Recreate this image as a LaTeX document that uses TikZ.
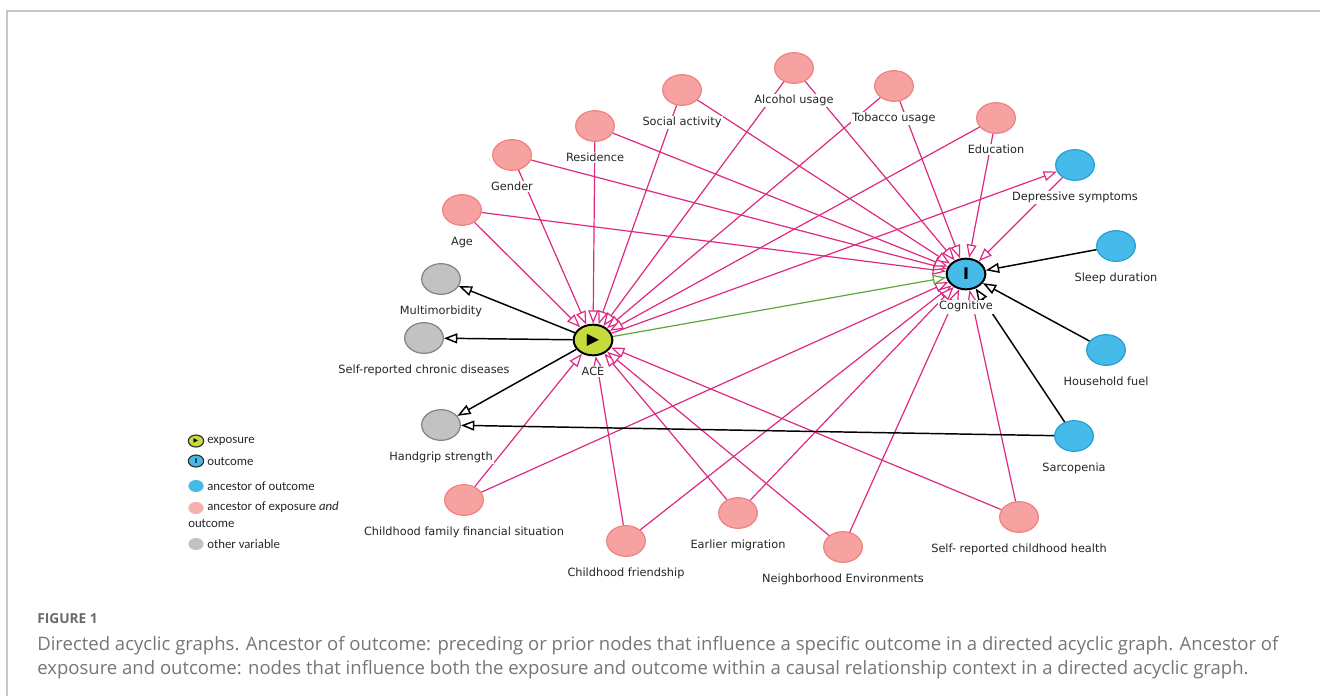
\documentclass[tikz,border=0pt]{standalone}
\usepackage{fontspec}
\setmainfont{DejaVu Sans}
\newfontfamily\legfont{Carlito}
\newfontfamily\capfont{Open Sans}
\usetikzlibrary{positioning,arrows.meta,shapes.geometric}
\definecolor{pinkfill}{RGB}{246,162,160}
\definecolor{pinkline}{RGB}{240,130,128}
\definecolor{bluefill}{RGB}{70,186,232}
\definecolor{blueline}{RGB}{38,160,216}
\definecolor{grayfill}{RGB}{194,194,194}
\definecolor{grayline}{RGB}{130,130,130}
\definecolor{expofill}{RGB}{198,218,62}
\definecolor{edgepink}{RGB}{222,40,130}
\definecolor{edgegreen}{RGB}{92,166,60}
\definecolor{captext}{RGB}{118,118,118}

\begin{document}
\begin{tikzpicture}[x=0.75pt, y=-0.75pt, font=\fontsize{8.5}{10}\selectfont,
                    v/.style={ellipse, minimum width=29pt, minimum height=23pt, inner sep=0pt, line width=0.9pt},
                    anc/.style={v, fill=pinkfill, draw=pinkline},
                    anco/.style={v, fill=bluefill, draw=blueline},
                    oth/.style={v, fill=grayfill, draw=grayline},
                    expo/.style={v, fill=expofill, draw=black, line width=1.5pt},
                    outc/.style={v, fill=bluefill, draw=black, line width=1.5pt},
                    lab/.style={fill=white, inner sep=1pt, text=black!85},
                    e/.style={line width=0.9pt, -{Triangle[length=10pt, width=7.5pt, fill=white]}},
                    bias/.style={e, edgepink},
                    caus/.style={e, edgegreen},
                    blk/.style={e, black, line width=1.1pt},
                    key/.style={ellipse, minimum width=11.5pt, minimum height=9pt, inner sep=0pt},
                    legt/.style={anchor=west, inner sep=0pt, font=\legfont\fontsize{9.6}{11}\selectfont, text=black!85},
                    captxt/.style={anchor=base west, inner sep=0pt, text=captext}]
  \useasboundingbox (0,0) rectangle (1320,696);
  \draw[black!22, line width=0.8pt] (7,696) -- (7,11) -- (1320,11);
  % variables
  \node[expo] (ace) at (593,340) {\fontsize{12}{12}\selectfont ▶};
  \node[outc] (cog) at (966,274) {\fontsize{12}{12}\selectfont\bfseries I};
  \node[anc] (age) at (462,210) {};
  \node[anc] (gen) at (512,155) {};
  \node[anc] (res) at (595,126) {};
  \node[anc] (soc) at (682,90) {};
  \node[anc] (alc) at (794,68) {};
  \node[anc] (tob) at (894,86) {};
  \node[anc] (edu) at (996,118) {};
  \node[anc] (fin) at (464,500) {};
  \node[anc] (fri) at (626,541) {};
  \node[anc] (mig) at (738,513) {};
  \node[anc] (nei) at (843,547) {};
  \node[anc] (hea) at (1019,517) {};
  \node[anco] (dep) at (1075,165) {};
  \node[anco] (sle) at (1116,246) {};
  \node[anco] (fue) at (1106,350) {};
  \node[anco] (sar) at (1074,436) {};
  \node[oth] (mult) at (441,279) {};
  \node[oth] (chro) at (424,338) {};
  \node[oth] (hand) at (441,425) {};
  % edges
  \foreach \a in {age,gen,res,soc,alc,tob,edu,fin,fri,mig,nei,hea} {
    \draw[bias] (\a) -- (ace);
    \draw[bias] (\a) -- (cog);
  }
  \draw[bias] (ace) -- (dep);
  \draw[bias] (dep) -- (cog);
  \draw[caus] (ace) -- (cog);
  \foreach \a in {sle,fue,sar} \draw[blk] (\a) -- (cog);
  \foreach \b in {mult,chro,hand} \draw[blk] (ace) -- (\b);
  \draw[blk] (sar) -- (hand);
  % labels
  \node[lab, below=7pt of ace] (acel) {ACE};
  \node[lab, below=7pt of cog] (cogl) {Cognitive};
  \node[lab, below=7pt of age] (agel) {Age};
  \node[lab, below=7pt of gen] (genl) {Gender};
  \node[lab, below=7pt of res] (resl) {Residence};
  \node[lab, below=7pt of soc] (socl) {Social activity};
  \node[lab, below=7pt of alc] (alcl) {Alcohol usage};
  \node[lab, below=7pt of tob] (tobl) {Tobacco usage};
  \node[lab, below=7pt of edu] (edul) {Education};
  \node[lab, below=7pt of fin] (finl) {Childhood family financial situation};
  \node[lab, below=7pt of fri] (fril) {Childhood friendship};
  \node[lab, below=7pt of mig] (migl) {Earlier migration};
  \node[lab, below=7pt of nei] (neil) {Neighborhood Environments};
  \node[lab, below=7pt of hea] (heal) {Self- reported childhood health};
  \node[lab, below=7pt of dep] (depl) {Depressive symptoms};
  \node[lab, below=7pt of sle] (slel) {Sleep duration};
  \node[lab, below=7pt of fue] (fuel) {Household fuel};
  \node[lab, below=7pt of sar] (sarl) {Sarcopenia};
  \node[lab, below=7pt of mult] (multl) {Multimorbidity};
  \node[lab, below=7pt of chro] (chrol) {Self-reported chronic diseases};
  \node[lab, below=7pt of hand] (handl) {Handgrip strength};
  % legend
  \node[key, fill=expofill, draw=black!80, line width=0.9pt] (k1) at (196,441) {\fontsize{4.5}{4.5}\selectfont ▶};
  \node[key, fill=bluefill, draw=black!80, line width=0.9pt] (k2) at (196,461) {\fontsize{5}{5}\selectfont\bfseries I};
  \node[key, fill=bluefill] (k3) at (196,486) {};
  \node[key, fill=pinkfill!85] (k4) at (196,508) {};
  \node[key, fill=grayfill] (k5) at (196,544) {};
  \node[legt] (t1) at (207,441) {exposure};
  \node[legt] (t2) at (207,461) {outcome};
  \node[legt] (t3) at (207,486) {ancestor of outcome};
  \node[legt] (t4) at (207,507) {ancestor of exposure \textit{and}};
  \node[legt] (t5) at (188,523) {outcome};
  \node[legt] (t6) at (207,544) {other variable};
  % caption
  \node[captxt, font=\capfont\bfseries\fontsize{10.3}{12}\selectfont, text=captext!90!black] (fig) at (37,623) {FIGURE 1};
  \node[captxt, font=\capfont\fontsize{13.9}{16}\selectfont] (cap1) at (37,650) {Directed acyclic graphs. Ancestor of outcome: preceding or prior nodes that influence a specific outcome in a directed acyclic graph. Ancestor of};
  \node[captxt, font=\capfont\fontsize{13.9}{16}\selectfont] (cap2) at (37,674) {exposure and outcome: nodes that influence both the exposure and outcome within a causal relationship context in a directed acyclic graph.};
\end{tikzpicture}
\end{document}
